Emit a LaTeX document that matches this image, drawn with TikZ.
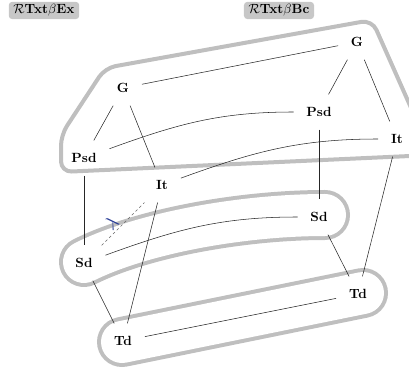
\documentclass[tikz,border=0pt]{standalone}
\definecolor{lamblue}{RGB}{40,60,150}
\begin{document}
\begin{tikzpicture}[x=0.75pt,y=-0.75pt,
  vtx/.style={inner sep=9.5pt, font=\bfseries},
  edge/.style={line width=0.4pt, black!85},
  dashedge/.style={line width=0.45pt, black!60, dash pattern=on 2pt off 2pt},
  hullline/.style={line width=3pt, black!25, rounded corners=8pt, line join=round},
  hullout/.style={line width=37.5pt, black!25, line cap=round},
  hullin/.style={line width=31.5pt, white, line cap=round},
  hdr/.style={fill=black!22, rounded corners=2.5pt, inner xsep=3.5pt, inner ysep=2pt, font=\bfseries}]
\useasboundingbox (0,0) rectangle (409,373);
\clip (0,0) rectangle (409,373);
% hulls
\draw[hullline] (61,172) -- (61,135) -- (105,68) -- (372,20) -- (432,155) -- cycle;
\draw[hullout] (84,262) .. controls (144,232) and (245,215) .. (325,215);
\draw[hullin] (84,262) .. controls (144,232) and (245,215) .. (325,215);
\draw[hullout] (122,342) -- (363,293);
\draw[hullin] (122,342) -- (363,293);
% headers
\node[hdr] (hEx) at (44,10.5) {$\mathcal{R}$Txt$\beta$Ex};
\node[hdr] (hBc) at (279,10.5) {$\mathcal{R}$Txt$\beta$Bc};
% nodes
\node[vtx] (GL) at (123,88) {G};
\node[vtx] (PsdL) at (84,158) {Psd};
\node[vtx] (ItL) at (162,185) {It};
\node[vtx] (SdL) at (84,263) {Sd};
\node[vtx] (TdL) at (123,341) {Td};
\node[vtx] (GR) at (357,42) {G};
\node[vtx] (PsdR) at (319,112) {Psd};
\node[vtx] (ItR) at (397,139) {It};
\node[vtx] (SdR) at (319,217) {Sd};
\node[vtx] (TdR) at (358,294) {Td};
% edges
\draw[edge] (GL) -- (GR);
\draw[edge] (GL) -- (PsdL);
\draw[edge] (GL) -- (ItL);
\draw[edge] (GR) -- (PsdR);
\draw[edge] (GR) -- (ItR);
\draw[edge] (PsdL) to[out=20,in=180] (PsdR);
\draw[edge] (ItL) to[out=20,in=180] (ItR);
\draw[edge] (SdL) to[out=20,in=180] (SdR);
\draw[edge] (PsdL) -- (SdL);
\draw[edge] (PsdR) -- (SdR);
\draw[edge] (ItL) -- (TdL);
\draw[edge] (ItR) -- (TdR);
\draw[edge] (SdL) -- (TdL);
\draw[edge] (SdR) -- (TdR);
\draw[edge] (TdL) -- (TdR);
\draw[dashedge] (SdL) -- node[pos=0.38, sloped, above, text=lamblue, inner sep=1.5pt, font=\Large] {$\lambda$} (ItL);
\end{tikzpicture}
\end{document}
